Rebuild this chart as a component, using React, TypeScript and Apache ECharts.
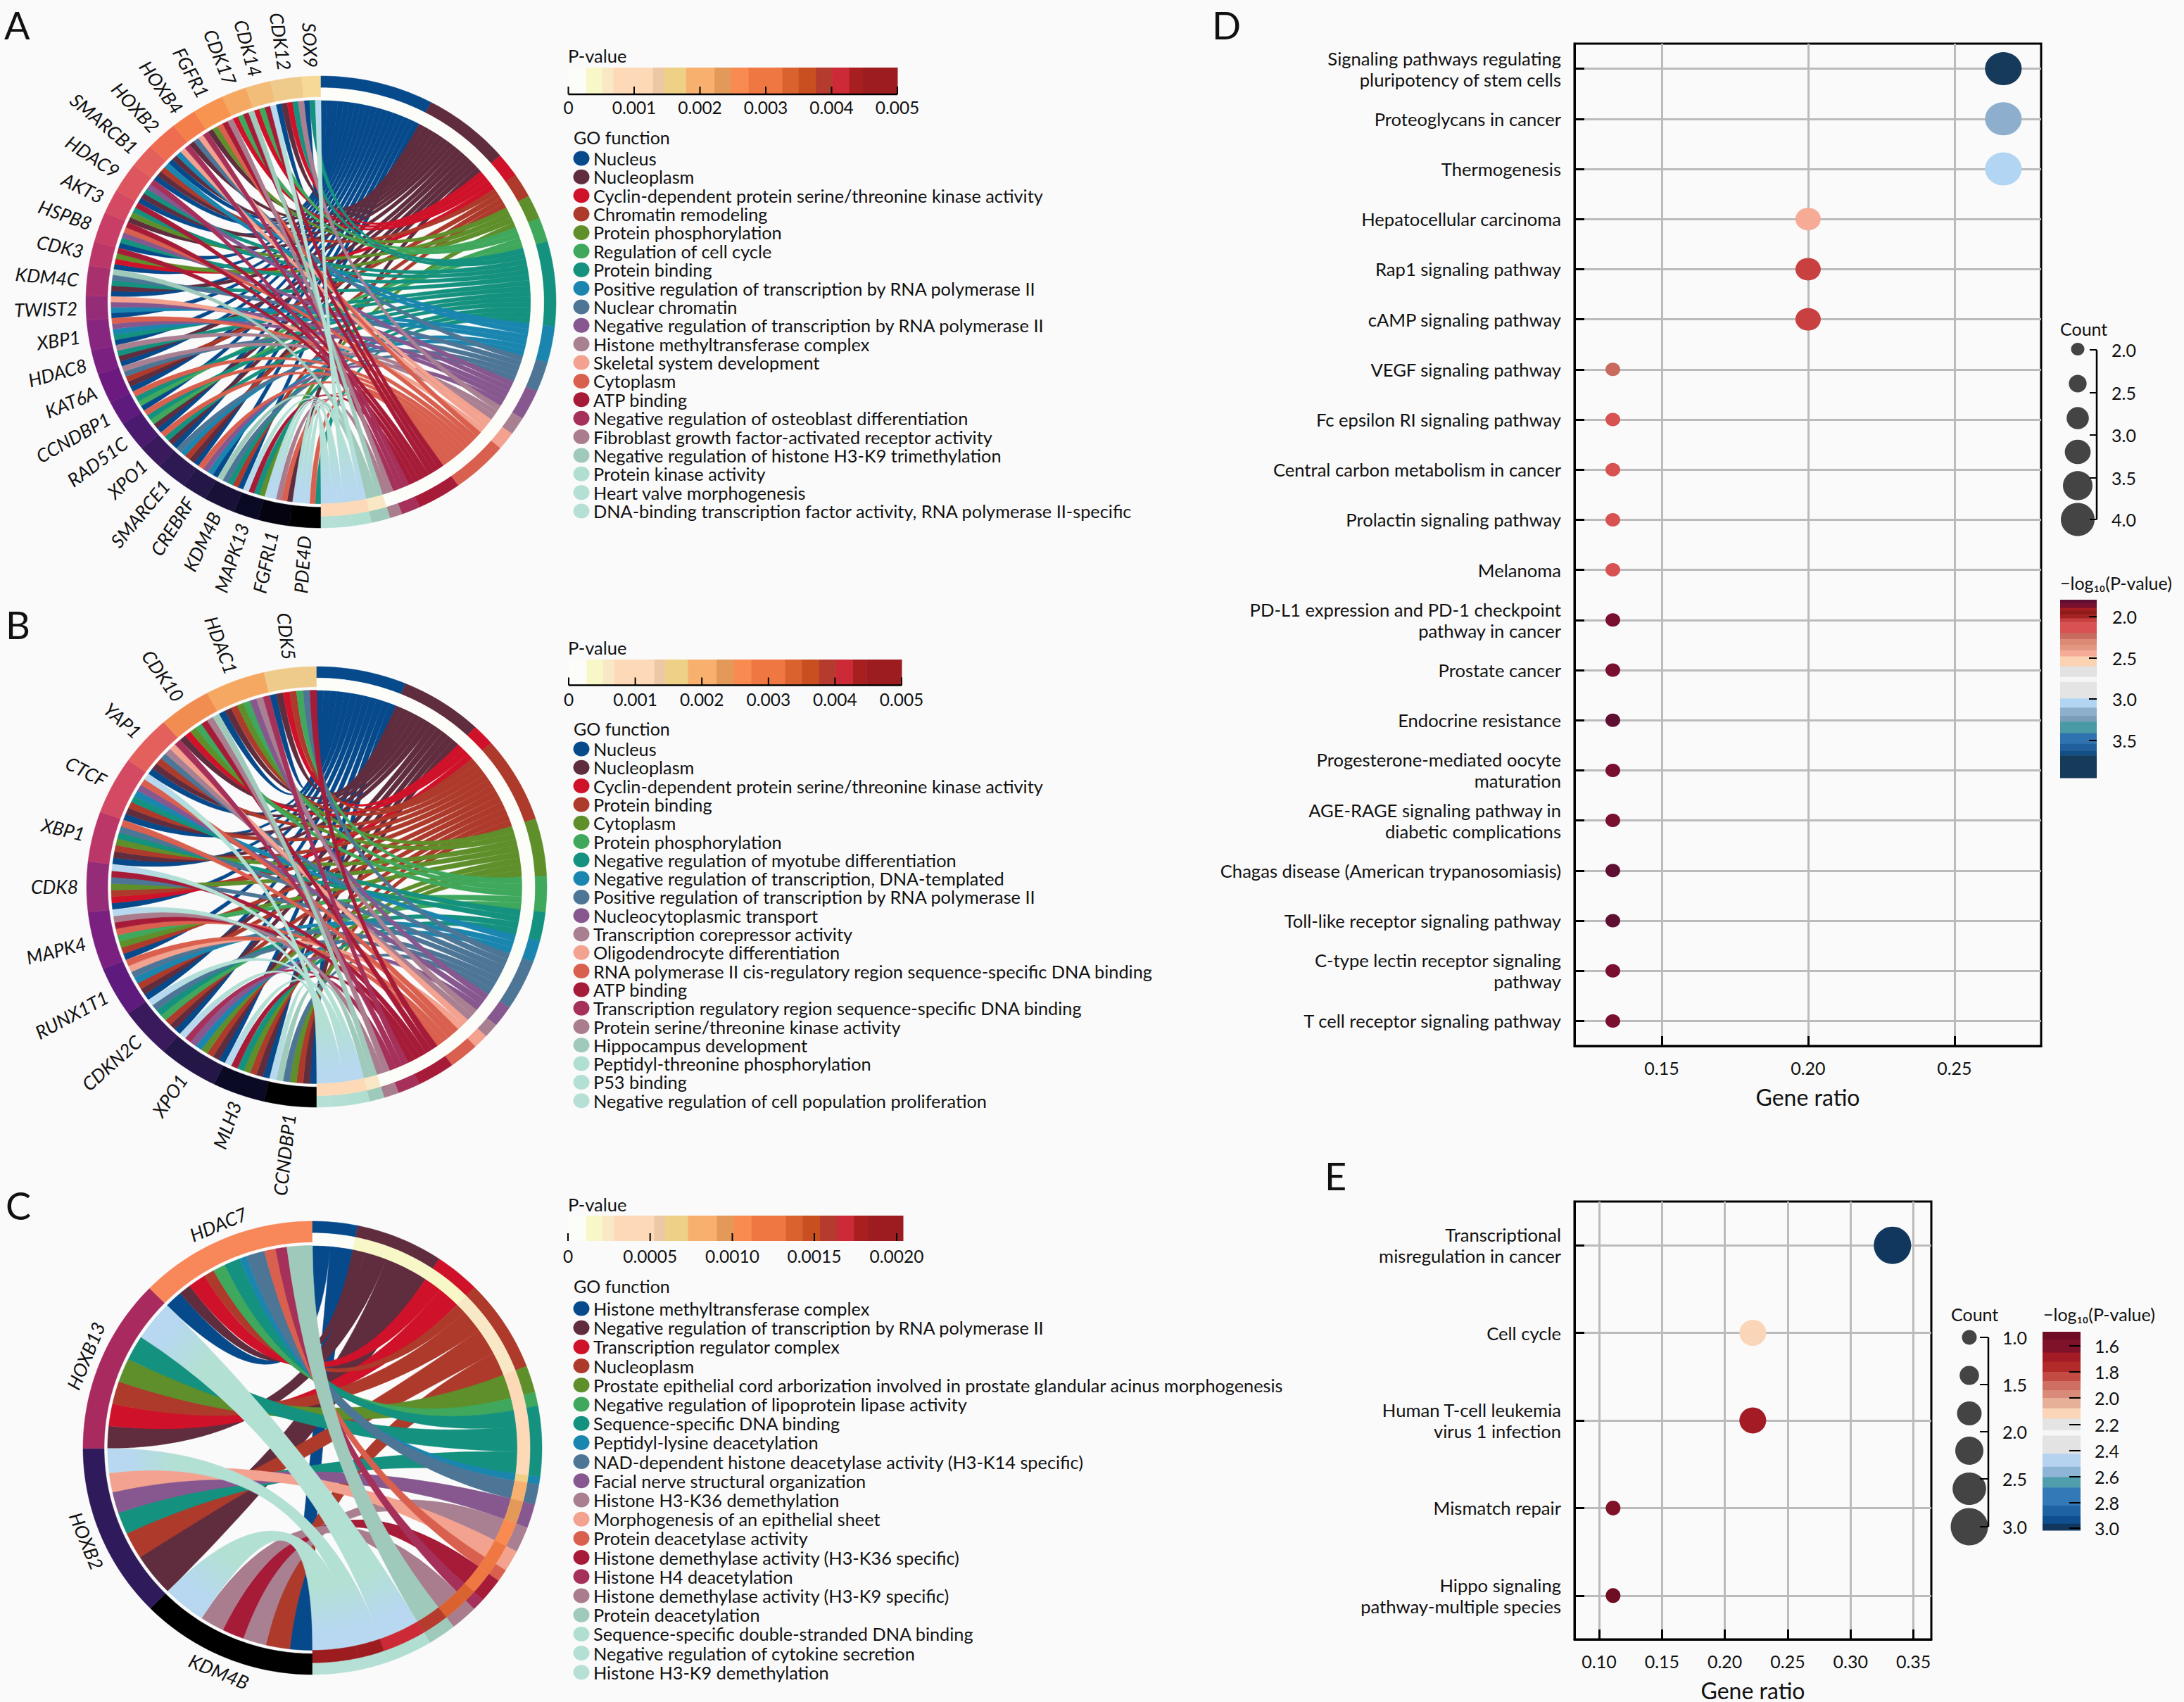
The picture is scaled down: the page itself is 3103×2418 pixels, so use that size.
import React, { useEffect, useRef } from "react";
import * as echarts from "echarts";

const FONT = "Lato";
const W = 3103;
const H = 2418;

// ---------- chord data ----------
const goColors = ["#064a8c","#5f2d3e","#cf1229","#ad3a2b","#5e8f2a","#3fa85c","#14917f","#1a86b0","#4d7596","#87588f","#a98092","#f3a290","#d9604f","#a61c38","#a5305a","#a97c8e","#9fcabb","#b0dfd2","#b4dfd4","#b6e0d5"];

const termsA = ["Nucleus","Nucleoplasm","Cyclin-dependent protein serine/threonine kinase activity","Chromatin remodeling","Protein phosphorylation","Regulation of cell cycle","Protein binding","Positive regulation of transcription by RNA polymerase II","Nuclear chromatin","Negative regulation of transcription by RNA polymerase II","Histone methyltransferase complex","Skeletal system development","Cytoplasm","ATP binding","Negative regulation of osteoblast differentiation","Fibroblast growth factor-activated receptor activity","Negative regulation of histone H3-K9 trimethylation","Protein kinase activity","Heart valve morphogenesis","DNA-binding transcription factor activity, RNA polymerase II-specific"];
const termsB = ["Nucleus","Nucleoplasm","Cyclin-dependent protein serine/threonine kinase activity","Protein binding","Cytoplasm","Protein phosphorylation","Negative regulation of myotube differentiation","Negative regulation of transcription, DNA-templated","Positive regulation of transcription by RNA polymerase II","Nucleocytoplasmic transport","Transcription corepressor activity","Oligodendrocyte differentiation","RNA polymerase II cis-regulatory region sequence-specific DNA binding","ATP binding","Transcription regulatory region sequence-specific DNA binding","Protein serine/threonine kinase activity","Hippocampus development","Peptidyl-threonine phosphorylation","P53 binding","Negative regulation of cell population proliferation"];
const termsC = ["Histone methyltransferase complex","Negative regulation of transcription by RNA polymerase II","Transcription regulator complex","Nucleoplasm","Prostate epithelial cord arborization involved in prostate glandular acinus morphogenesis","Negative regulation of lipoprotein lipase activity","Sequence-specific DNA binding","Peptidyl-lysine deacetylation","NAD-dependent histone deacetylase activity (H3-K14 specific)","Facial nerve structural organization","Histone H3-K36 demethylation","Morphogenesis of an epithelial sheet","Protein deacetylase activity","Histone demethylase activity (H3-K36 specific)","Histone H4 deacetylation","Histone demethylase activity (H3-K9 specific)","Protein deacetylation","Sequence-specific double-stranded DNA binding","Negative regulation of cytokine secretion","Histone H3-K9 demethylation"];

const genesA = ["PDE4D","FGFRL1","MAPK13","KDM4B","CREBRF","SMARCE1","XPO1","RAD51C","CCNDBP1","KAT6A","HDAC8","XBP1","TWIST2","KDM4C","CDK3","HSPB8","AKT3","HDAC9","SMARCB1","HOXB2","HOXB4","FGFR1","CDK17","CDK14","CDK12","SOX9"];
const genesB = ["CCNDBP1","MLH3","XPO1","CDKN2C","RUNX1T1","MAPK4","CDK8","XBP1","CTCF","YAP1","CDK10","HDAC1","CDK5"];
const genesC = ["KDM4B","HOXB2","HOXB13","HDAC7"];

const geneColorsA = ["#000000","#05030f","#0b0a24","#1a1138","#241748","#2d1a52","#3a1a5c","#4a1a6e","#5e1a7c","#6c1a80","#7a2080","#86267e","#952c78","#a8306f","#bb3768","#c93e66","#d44a63","#dc555f","#e4605c","#ee6d50","#f57f4b","#f7944f","#f4a862","#f1bd78","#eecb8a","#f6d996"];
const geneColorsB = ["#000000","#0b0a24","#241748","#3a1a5c","#5e1a7c","#7a2080","#952c78","#bb3768","#d44a63","#e4605c","#f28d52","#f4a862","#eecb8a"];
const geneColorsC = ["#000000","#2f1a5c","#a82a5f","#f8875a"];

// gene -> GO term links, gene order runs clockwise from the bottom
const linksA: number[][] = [
  [6,12,17,18,19],[1,12,15,18,19],[4,6,13,17],[0,3,6,8,16],[0,7,9,12],[0,1,3,7,8],[0,1,6,12],[0,1,5,6,12],[0,5,6,12],[0,1,3,8,10],
  [0,1,6,10],[0,6,7,9,12],[0,7,9,11],[0,1,6,8,16],[0,2,4,13],[0,6,9,12,13],[1,4,6,13],[0,1,6,9,14],[0,1,3,7],[0,1,7,11,14],
  [1,8,11,14],[1,4,12,13,15],[2,5,13,16],[2,5,13,17],[0,1,2,6,10],[0,6,18],
];
const linksB: number[][] = [
  [0,1,3,4,8,16,19],[0,1,3,4,6,13,17],[0,1,3,4,7,9,14,18],[0,1,3,5,6,8,17],[0,1,3,7,8,11,12],[0,3,4,5,12,13,15,18],[0,2,3,4,8,13,17],
  [0,1,3,4,6,8,12],[0,1,3,6,7,9,12,19],[0,1,3,8,10,11,14],[1,2,4,5,13,15,16],[0,1,3,4,5,9,10,14],[0,1,2,3,5,8,13],
];
const linksC: [number, number][][] = [
  [[0,6.4],[3,6.8],[10,6.6],[13,6.2],[15,6.8],[19,12.2]],
  [[1,12.4],[3,7.7],[6,6.3],[9,6.1],[11,5.5],[18,7]],
  [[1,6.4],[2,6.4],[3,6.5],[4,6.9],[6,7.2],[17,11.6]],
  [[0,5],[1,3.4],[2,5],[3,3],[5,3.5],[6,4.6],[7,2],[8,5.2],[12,3.2],[14,3.2],[16,7.2]],
];

// P-value of each GO term
const pvalA = [.00002,.00003,.00005,.00008,.0001,.00012,.00014,.00016,.00018,.0002,.00021,.00022,.00023,.00024,.00025,.00026,.0006,.0007,.0008,.0009];
const pvalB = [.00002,.00003,.00005,.00008,.0001,.00012,.00014,.00016,.00018,.0002,.00021,.00022,.00023,.00024,.00025,.00026,.0006,.0007,.0008,.0009];
const pvalC = [.00005,.00012,.00018,.00022,.0003,.0004,.0005,.0006,.0008,.0009,.001,.0011,.0012,.0013,.00135,.0014,.0016,.0017,.0019,.002];

// P-value colour bar
const pBarEdges = [0,.054,.103,.137,.257,.29,.358,.444,.495,.548,.65,.7,.752,.802,.854,.895,1];
const pBarColors = ["#fcfcf8","#f7f7c8","#f9e8c5","#fdd9b8","#eec8a5","#eed086","#f8b06e","#e2995a","#f98a50","#ef7742","#d9622f","#c94f20","#b53b2e","#cc2a36","#a81f20","#9d1c20"];
const pTicksAB = ["0","0.001","0.002","0.003","0.004","0.005"];
const pTicksC = ["0","0.0005","0.0010","0.0015","0.0020"];

// ---------- bubble data ----------
const pathwaysD = ["Signaling pathways regulating\npluripotency of stem cells","Proteoglycans in cancer","Thermogenesis","Hepatocellular carcinoma","Rap1 signaling pathway","cAMP signaling pathway","VEGF signaling pathway","Fc epsilon RI signaling pathway","Central carbon metabolism in cancer","Prolactin signaling pathway","Melanoma","PD-L1 expression and PD-1 checkpoint\npathway in cancer","Prostate cancer","Endocrine resistance","Progesterone-mediated oocyte\nmaturation","AGE-RAGE signaling pathway in\ndiabetic complications","Chagas disease (American trypanosomiasis)","Toll-like receptor signaling pathway","C-type lectin receptor signaling\npathway","T cell receptor signaling pathway"];
const ratioD = [.2667,.2667,.2667,.2,.2,.2,.1333,.1333,.1333,.1333,.1333,.1333,.1333,.1333,.1333,.1333,.1333,.1333,.1333,.1333];
const countD = [4,4,4,3,3,3,2,2,2,2,2,2,2,2,2,2,2,2,2,2];
const logPD = [3.9,3.15,3.05,2.45,2.05,2.05,2.22,2.15,2.15,2.15,2.15,1.84,1.88,1.82,1.88,1.84,1.81,1.82,1.84,1.84];

const pathwaysE = ["Transcriptional\nmisregulation in cancer","Cell cycle","Human T-cell leukemia\nvirus 1 infection","Mismatch repair","Hippo signaling\npathway-multiple species"];
const ratioE = [.3333,.2222,.2222,.1111,.1111];
const countE = [3,2,2,1,1];
const logPE = [3.0,2.13,1.68,1.58,1.52];

const sizeD: Record<number, number[]> = { 2: [21, 19], 3: [36, 32], 4: [52, 47] };
const sizeE: Record<number, number[]> = { 1: [21, 21], 2: [38, 37], 3: [53, 53] };

// -log10(P) colour bars, top to bottom
const logBarEdgesD = [1.795,1.835,1.895,1.93,1.97,2.02,2.07,2.2,2.27,2.34,2.41,2.48,2.6,2.73,2.79,2.99,3.1,3.2,3.27,3.41,3.54,3.62,3.68,3.95];
const logBarColorsD = ["#5f1032","#7a1030","#a51d20","#8e1a1a","#a52222","#c84040","#d85252","#c86b5e","#dc8a75","#e59683","#f5ab95","#fbd3b3","#e2e2e2","#f5f5f5","#e4e4e4","#b1d5f2","#8dafcd","#7a9eb9","#4a9aa5","#2f74b0","#1f5f9e","#114f86","#163a5a"];
const logBarEdgesE = [1.49,1.55,1.65,1.72,1.8,1.87,1.94,2.0,2.08,2.16,2.25,2.29,2.43,2.53,2.61,2.69,2.83,2.91,2.97,3.02];
const logBarColorsE = ["#6e0d24","#7f1228","#a31b24","#b22a2a","#c44a44","#cf6f63","#d98a78","#e5b097","#fbd5b8","#e4e4e4","#f6f6f6","#e3e3e3","#b5d3ee","#8fb5d6","#4f9eab","#3379b8","#1f63a5","#0f4f90","#12375f"];
const countLabelsD = ["2.0","2.5","3.0","3.5","4.0"];
const countLabelsE = ["1.0","1.5","2.0","2.5","3.0"];
const logTicksD = ["2.0","2.5","3.0","3.5"];
const logTicksE = ["1.6","1.8","2.0","2.2","2.4","2.6","2.8","3.0"];

// ---------- helpers ----------
type Circle = { cx: number; cy: number; rx: number; ry: number };
const rad = (d: number) => (d * Math.PI) / 180;
const pt = (c: Circle, deg: number, f: number) => [c.cx + c.rx * f * Math.sin(rad(deg)), c.cy - c.ry * f * Math.cos(rad(deg))];
const fmt = (p: number[]) => `${p[0].toFixed(2)} ${p[1].toFixed(2)}`;
function arcTo(c: Circle, a: number, b: number, f: number) {
  const n = Math.max(1, Math.ceil(Math.abs(b - a) / 1.2));
  let s = "";
  for (let i = 1; i <= n; i++) s += ` L ${fmt(pt(c, a + ((b - a) * i) / n, f))}`;
  return s;
}
function ringPath(c: Circle, a: number, b: number, f1: number, f2: number) {
  return `M ${fmt(pt(c, a, f1))}${arcTo(c, a, b, f1)} L ${fmt(pt(c, b, f2))}${arcTo(c, b, a, f2)} Z`;
}
function pColor(p: number, max: number) {
  const t = p / max;
  for (let i = 0; i < pBarColors.length; i++) if (t <= pBarEdges[i + 1]) return pBarColors[i];
  return pBarColors[pBarColors.length - 1];
}
function logColor(v: number, edges: number[], colors: string[]) {
  for (let i = 0; i < colors.length; i++) if (v <= edges[i + 1]) return colors[i];
  return colors[colors.length - 1];
}

function chordSeries(c: Circle, genes: string[], geneColors: string[], links: [number, number][][], pvals: number[], pMax: number, tangential: boolean) {
  const F_RIB = 0.893, F_GENE = 0.908, F_MID = 0.948;
  const termTotals = goColors.map(() => 0);
  let total = 0;
  links.forEach((l) => l.forEach(([t, v]) => { termTotals[t] += v; total += v; }));
  const k = 180 / total;
  // term sectors, clockwise from the top
  const termStart: number[] = [];
  let acc = 0;
  termTotals.forEach((v, i) => { termStart[i] = acc; acc += v * k; });
  // slots on terms: clockwise, highest gene index first
  const cursor = [...termStart];
  const slots: Record<string, number[]> = {};
  for (let g = links.length - 1; g >= 0; g--) links[g].forEach(([t, v]) => { slots[`${g}-${t}`] = [cursor[t], cursor[t] + v * k]; cursor[t] += v * k; });
  // gene sectors, clockwise from the bottom
  const geneSect: number[][] = [];
  const ribbons: { term: number; a1: number; a2: number; b1: number; b2: number }[] = [];
  let b = 180;
  links.forEach((l, g) => {
    const s = b;
    l.forEach(([t, v]) => {
      const sl = slots[`${g}-${t}`];
      ribbons.push({ term: t, a1: sl[0], a2: sl[1], b1: b, b2: b + v * k });
      b += v * k;
    });
    geneSect.push([s, b]);
  });
  ribbons.sort((x, y) => x.term - y.term);
  const center = [c.cx, c.cy];
  const lightFill = new echarts.graphic.RadialGradient(c.cx, c.cy, c.rx, [
    { offset: 0, color: "#b2e0d3" }, { offset: 0.6, color: "#b2e0d3" }, { offset: 0.8, color: "#b7d8f0" }, { offset: 1, color: "#b7d8f0" },
  ], true);
  const ribbonSeries = {
    type: "custom", coordinateSystem: "none", silent: true, clip: false,
    data: ribbons.map((_, i) => [i]),
    renderItem: (params: any) => {
      const r = ribbons[params.dataIndex];
      const d = `M ${fmt(pt(c, r.a1, F_RIB))}${arcTo(c, r.a1, r.a2, F_RIB)} Q ${fmt(center)} ${fmt(pt(c, r.b1, F_RIB))}${arcTo(c, r.b1, r.b2, F_RIB)} Q ${fmt(center)} ${fmt(pt(c, r.a1, F_RIB))} Z`;
      const col = goColors[r.term];
      const light = r.term >= 17;
      return { type: "path", shape: { pathData: d }, style: { fill: light ? lightFill : col, stroke: light ? "#b4dcdc" : col, lineWidth: 0.5 } };
    },
  };
  const rings: { d: string; fill: string }[] = [];
  geneSect.forEach((s, g) => rings.push({ d: ringPath(c, s[0], s[1], 1, F_GENE), fill: geneColors[g] }));
  termTotals.forEach((v, t) => {
    if (v <= 0) return;
    const a = termStart[t], e = a + v * k;
    rings.push({ d: ringPath(c, a, e, 1, F_MID), fill: goColors[t] });
    rings.push({ d: ringPath(c, a, e, F_MID, F_RIB), fill: pColor(pvals[t], pMax) });
  });
  const ringSeries = {
    type: "custom", coordinateSystem: "none", silent: true, clip: false,
    data: rings.map((_, i) => [i]),
    renderItem: (params: any) => {
      const r = rings[params.dataIndex];
      return { type: "path", shape: { pathData: r.d }, style: { fill: r.fill, stroke: r.fill, lineWidth: 0.5 } };
    },
  };
  const labelSeries = {
    type: "custom", coordinateSystem: "none", silent: true, clip: false,
    data: genes.map((_, i) => [i]),
    renderItem: (params: any) => {
      const i = params.dataIndex;
      const mid = (geneSect[i][0] + geneSect[i][1]) / 2;
      if (tangential) {
        const p = [c.cx + (c.rx + 22) * Math.sin(rad(mid)), c.cy - (c.ry + 22) * Math.cos(rad(mid))];
        const rot = mid < 270 ? -(mid - 180) : 360 - mid;
        return { type: "text", x: p[0], y: p[1], rotation: rad(rot), style: { text: genes[i], align: "center", verticalAlign: "middle", fontFamily: FONT, fontStyle: "italic", fontSize: 26.5, fill: "#111" } };
      }
      const p = [c.cx + (c.rx + 12) * Math.sin(rad(mid)), c.cy - (c.ry + 12) * Math.cos(rad(mid))];
      return { type: "text", x: p[0], y: p[1], rotation: rad(270 - mid), style: { text: genes[i], align: "right", verticalAlign: "middle", fontFamily: FONT, fontStyle: "italic", fontSize: 26.5, fill: "#111" } };
    },
  };
  return [ribbonSeries, ringSeries, labelSeries];
}

const pairs = (l: number[][]): [number, number][][] => l.map((g) => g.map((t) => [t, 1] as [number, number]));

function text(x: number, y: number, str: string, fontSize = 24, align = "left") {
  return { type: "text", silent: true, x, y, style: { text: str, fontFamily: FONT, fontSize, fill: "#111", align, verticalAlign: "middle" } };
}
function line(x1: number, y1: number, x2: number, y2: number, w = 2) {
  return { type: "line", silent: true, shape: { x1, y1, x2, y2 }, style: { stroke: "#000", lineWidth: w } };
}

function pLegend(o: { barL: number; barR: number; barT: number; barB: number; tickX: number[]; labels: string[]; labelY: number; titleY: number; goY: number; first: number; step: number; terms: string[]; axis: boolean; size: number }) {
  const els: any[] = [text(807, o.titleY, "P-value", 25.5)];
  const w = o.barR - o.barL;
  pBarColors.forEach((col, i) => els.push({ type: "rect", silent: true, shape: { x: o.barL + pBarEdges[i] * w, y: o.barT, width: (pBarEdges[i + 1] - pBarEdges[i]) * w + 0.5, height: o.barB - o.barT }, style: { fill: col } }));
  if (o.axis) els.push(line(o.barL, o.barB, o.barR, o.barB, 2.5));
  o.tickX.forEach((x, i) => {
    els.push(line(x, o.barB - 11, x, o.barB, 2));
    els.push(text(x, o.labelY, o.labels[i], 24.5, "center"));
  });
  els.push(text(815, o.goY, "GO function", 25));
  o.terms.forEach((t, i) => {
    const y = o.first + o.step * i;
    els.push({ type: "ellipse", silent: true, shape: { cx: 826, cy: y, rx: 11.5, ry: 10.5 }, style: { fill: goColors[i] } });
    els.push(text(843, y, t, o.size));
  });
  return els;
}

function bubbleLegend(o: { title: string; titleX: number; titleY: number; cx: number; ys: number[]; rxs: number[]; rys: number[]; brX: number; tickL: number; tickYs: number[]; labelX: number; labels: string[] }) {
  const els: any[] = [text(o.titleX, o.titleY, o.title, 25)];
  o.ys.forEach((y, i) => els.push({ type: "ellipse", silent: true, shape: { cx: o.cx, cy: y, rx: o.rxs[i], ry: o.rys[i] }, style: { fill: "#444" } }));
  els.push(line(o.brX, o.tickYs[0], o.brX, o.tickYs[o.tickYs.length - 1], 2.5));
  o.tickYs.forEach((y, i) => {
    els.push(line(o.tickL, y, o.brX, y, 2));
    els.push(text(o.labelX, y, o.labels[i], 25));
  });
  return els;
}

function logLegend(o: { titleX: number; titleY: number; barL: number; barR: number; barT: number; barB: number; edges: number[]; colors: string[]; tickL: number; tickYs: number[]; labelX: number; labels: string[] }) {
  const els: any[] = [text(o.titleX, o.titleY, "\u2212log\u2081\u2080(P-value)", 25)];
  const lo = o.edges[0], hi = o.edges[o.edges.length - 1];
  const yOf = (v: number) => o.barT + ((v - lo) / (hi - lo)) * (o.barB - o.barT);
  o.colors.forEach((col, i) => els.push({ type: "rect", silent: true, shape: { x: o.barL, y: yOf(o.edges[i]), width: o.barR - o.barL, height: yOf(o.edges[i + 1]) - yOf(o.edges[i]) + 0.5 }, style: { fill: col } }));
  o.tickYs.forEach((y, i) => {
    els.push(line(o.tickL, y, o.barR, y, 2));
    els.push(text(o.labelX, y, o.labels[i], 25));
  });
  return els;
}

function bubbleAxes(min: number, max: number, ticks: number[], cats: string[], gridIndex: number, nameGap: number) {
  return {
    x: {
      type: "value", gridIndex, min, max,
      name: "Gene ratio", nameLocation: "middle", nameGap,
      nameTextStyle: { fontFamily: FONT, fontSize: 32, color: "#111" },
      axisLine: { show: true, onZero: false, lineStyle: { color: "#000", width: 3 } },
      axisTick: { show: true, inside: true, length: 14, customValues: ticks, lineStyle: { color: "#000", width: 3 } },
      axisLabel: { show: true, margin: 18, customValues: ticks, formatter: (v: number) => v.toFixed(2), fontFamily: FONT, fontSize: 25, color: "#111" },
      splitLine: { show: true, lineStyle: { color: "#bbbbbb", width: 3 } },
    },
    y: {
      type: "category", gridIndex, inverse: true, data: cats,
      axisLine: { show: true, lineStyle: { color: "#000", width: 3 } },
      axisTick: { show: true, inside: true, alignWithLabel: true, interval: 0, length: 14, lineStyle: { color: "#000", width: 3 } },
      axisLabel: { show: true, interval: 0, margin: 19, align: "right", lineHeight: 30, fontFamily: FONT, fontSize: 25.6, color: "#111" },
      splitLine: { show: true, alignWithLabel: true, interval: 0, lineStyle: { color: "#bbbbbb", width: 3 } },
    },
  };
}

export default function App() {
  const ref = useRef<HTMLDivElement>(null);
  useEffect(() => {
    document.body.style.margin = "0";
    document.body.style.background = "#fafafa";
    const chart = echarts.init(ref.current!, undefined, { renderer: "svg", width: W, height: H });
    const circleA: Circle = { cx: 456, cy: 429, rx: 334, ry: 321 };
    const circleB: Circle = { cx: 450, cy: 1260, rx: 327, ry: 313 };
    const circleC: Circle = { cx: 444, cy: 2057, rx: 326, ry: 322 };

    const axesD = bubbleAxes(0.1202, 0.2796, [0.15, 0.2, 0.25], pathwaysD, 0, 56);
    const axesE = bubbleAxes(0.0804, 0.3642, [0.1, 0.15, 0.2, 0.25, 0.3, 0.35], pathwaysE, 1, 56);

    const graphicEls: any[] = [
      text(6, 35, "A", 54), text(8, 887, "B", 54), text(8, 1712, "C", 54), text(1722, 35, "D", 54), text(1882, 1670, "E", 54),
      ...pLegend({ barL: 807.5, barR: 1275, barT: 96, barB: 134, tickX: [807.5, 901, 994.5, 1088, 1181.5, 1275], labels: pTicksAB, labelY: 152, titleY: 79, goY: 195, first: 225, step: 26.37, terms: termsA, axis: true, size: 25.3 }),
      ...pLegend({ barL: 808, barR: 1281, barT: 937, barB: 973.5, tickX: [808, 902.6, 997.2, 1091.8, 1186.4, 1281], labels: pTicksAB, labelY: 993, titleY: 920, goY: 1034.5, first: 1064, step: 26.3, terms: termsB, axis: true, size: 25.3 }),
      ...pLegend({ barL: 807, barR: 1283, barT: 1727, barB: 1763, tickX: [807, 923.7, 1040.5, 1157, 1274], labels: pTicksC, labelY: 1784, titleY: 1711, goY: 1827, first: 1859, step: 27.2, terms: termsC, axis: false, size: 25.3 }),
      ...bubbleLegend({ title: "Count", titleX: 2927, titleY: 467, cx: 2952, ys: [496, 545, 594, 642, 690, 738], rxs: [9.5, 12.7, 15.8, 18.4, 21, 24], rys: [9, 12.5, 15.8, 17.3, 20.7, 23.5], brX: 2979, tickL: 2969, tickYs: [497, 558, 618, 679, 738], labelX: 3000, labels: countLabelsD }),
      ...logLegend({ titleX: 2927, titleY: 828, barL: 2927, barR: 2979, barT: 852, barB: 1105, edges: logBarEdgesD, colors: logBarColorsD, tickL: 2968, tickYs: [876, 935, 993, 1052], labelX: 3001, labels: logTicksD }),
      ...bubbleLegend({ title: "Count", titleX: 2772, titleY: 1867, cx: 2798, ys: [1900, 1954, 2008, 2061, 2115, 2169], rxs: [10.5, 13.8, 17.5, 20, 23.8, 26.5], rys: [10.4, 13.6, 17, 20, 23, 26.5], brX: 2825, tickL: 2813, tickYs: [1900, 1967, 2034, 2101, 2169], labelX: 2845, labels: countLabelsE }),
      ...logLegend({ titleX: 2903, titleY: 1867, barL: 2902, barR: 2956, barT: 1892, barB: 2174, edges: logBarEdgesE, colors: logBarColorsE, tickL: 2940, tickYs: [1912, 1949, 1986, 2024, 2061, 2098, 2135, 2171], labelX: 2976, labels: logTicksE }),
    ];

    chart.setOption({
      animation: false,
      backgroundColor: "#fafafa",
      textStyle: { fontFamily: FONT },
      grid: [
        { left: 2237, top: 62, width: 663, height: 1424, show: true, borderColor: "#000", borderWidth: 3, backgroundColor: "transparent" },
        { left: 2237, top: 1707, width: 507, height: 622, show: true, borderColor: "#000", borderWidth: 3, backgroundColor: "transparent" },
      ],
      xAxis: [axesD.x, axesE.x],
      yAxis: [axesD.y, axesE.y],
      graphic: { elements: graphicEls },
      series: [
        {
          type: "scatter", xAxisIndex: 0, yAxisIndex: 0, silent: true, clip: false,
          data: ratioD.map((r, i) => ({ value: [r, i], symbolSize: sizeD[countD[i]], itemStyle: { color: logColor(logPD[i], logBarEdgesD, logBarColorsD), opacity: 1 } })),
        },
        {
          type: "scatter", xAxisIndex: 1, yAxisIndex: 1, silent: true, clip: false,
          data: ratioE.map((r, i) => ({ value: [r, i], symbolSize: sizeE[countE[i]], itemStyle: { color: logColor(logPE[i], logBarEdgesE, logBarColorsE), opacity: 1 } })),
        },
        ...chordSeries(circleA, genesA, geneColorsA, pairs(linksA), pvalA, 0.005, false),
        ...chordSeries(circleB, genesB, geneColorsB, pairs(linksB), pvalB, 0.005, false),
        ...chordSeries(circleC, genesC, geneColorsC, linksC, pvalC, 0.002, true),
      ],
    });
    return () => chart.dispose();
  }, []);
  return <div ref={ref} style={{ width: W, height: H }} />;
}
